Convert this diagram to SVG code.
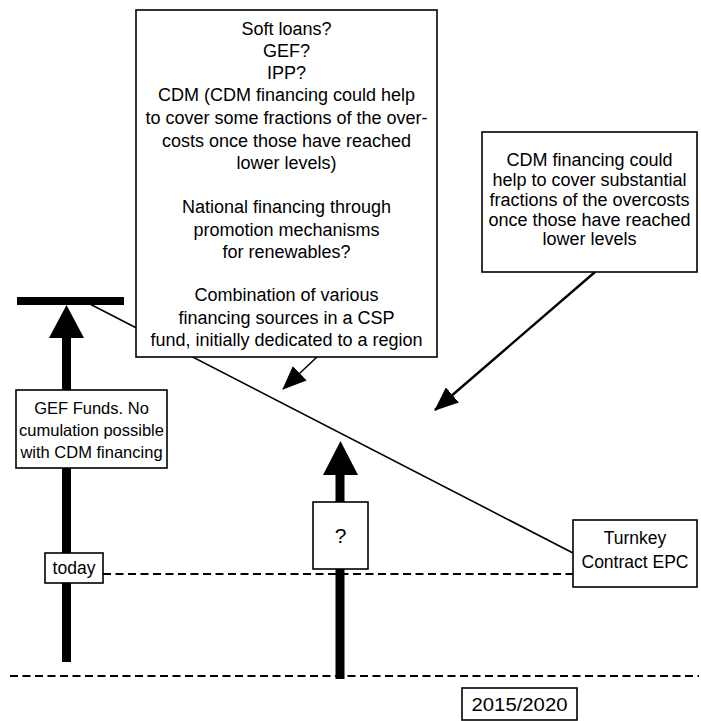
<svg xmlns="http://www.w3.org/2000/svg" width="701" height="721" viewBox="0 0 701 721">
<style>
.box{fill:#fff;stroke:#000;stroke-width:1.6}
text{font-family:"Liberation Sans",Arial,sans-serif;font-size:17.5px;fill:#000;text-anchor:middle}
.big text{font-size:18px}
.gef text{font-size:16.5px}
.dash{stroke:#000;stroke-width:2.2;stroke-dasharray:8,4.5;fill:none}
.thick{stroke:#000;stroke-width:9;fill:none}
.thin{stroke:#000;stroke-width:1.6;fill:none}
</style>
<defs>
<marker id="ahBig" viewBox="0 0 24 20" refX="23" refY="10" markerWidth="24" markerHeight="20" orient="auto" markerUnits="userSpaceOnUse">
<path d="M0,0 L24,10 L0,20 z" fill="#000"/>
</marker>
</defs>
<g id="connectors">
<line class="dash" x1="103" y1="574" x2="573" y2="574"/>
<line class="dash" x1="10" y1="676" x2="699" y2="676"/>
<line class="thin" x1="88" y1="303" x2="573" y2="553"/>
<rect x="17" y="297" width="107" height="8" fill="#000"/>
<line class="thick" x1="66.5" y1="335" x2="66.5" y2="662"/>
<path d="M66.5,305 L84,338 L49,338 z" fill="#000"/>
<line class="thick" x1="340" y1="473" x2="340" y2="679"/>
<path d="M340.5,441 L358,475 L323,475 z" fill="#000"/>
<line class="thin" x1="317" y1="357" x2="283" y2="389" marker-end="url(#ahBig)"/>
<line stroke="#000" stroke-width="2.4" x1="595" y1="272" x2="435" y2="410" marker-end="url(#ahBig)"/>
</g>
<g id="box-main" class="big">
<rect class="box" x="136" y="10" width="301" height="347"/>
<text x="286.5" y="35">Soft loans?</text>
<text x="286.5" y="57">GEF?</text>
<text x="286.5" y="79">IPP?</text>
<text x="286.5" y="101">CDM (CDM financing could help</text>
<text x="286.5" y="124">to cover some fractions of the over-</text>
<text x="286.5" y="147">costs once those have reached</text>
<text x="286.5" y="169">lower levels)</text>
<text x="286.5" y="213">National financing through</text>
<text x="286.5" y="236">promotion mechanisms</text>
<text x="286.5" y="258">for renewables?</text>
<text x="286.5" y="301">Combination of various</text>
<text x="286.5" y="324">financing sources in a CSP</text>
<text x="286.5" y="346">fund, initially dedicated to a region</text>
</g>
<g id="box-cdm" class="big">
<rect class="box" x="482" y="132" width="215" height="140"/>
<text x="589.5" y="166">CDM financing could</text>
<text x="589.5" y="186">help to cover substantial</text>
<text x="589.5" y="206">fractions of the overcosts</text>
<text x="589.5" y="226">once those have reached</text>
<text x="589.5" y="245">lower levels</text>
</g>
<g id="box-gef" class="gef">
<rect class="box" x="16" y="390" width="151" height="78"/>
<text x="91.5" y="414">GEF Funds. No</text>
<text x="91.5" y="436">cumulation possible</text>
<text x="91.5" y="458">with CDM financing</text>
</g>
<g id="box-today">
<rect class="box" x="45" y="553" width="58" height="30"/>
<text x="74" y="574">today</text>
</g>
<g id="box-question">
<rect class="box" x="313" y="502" width="55" height="67"/>
<text x="340.5" y="543" style="font-size:21px">?</text>
</g>
<g id="box-turnkey">
<rect class="box" x="573" y="520" width="124" height="67"/>
<text x="635" y="544">Turnkey</text>
<text x="635" y="568">Contract EPC</text>
</g>
<g id="box-year">
<rect class="box" x="462" y="688" width="115" height="32"/>
<text x="519.5" y="711" style="font-size:18px" textLength="96" lengthAdjust="spacingAndGlyphs">2015/2020</text>
</g>
</svg>
